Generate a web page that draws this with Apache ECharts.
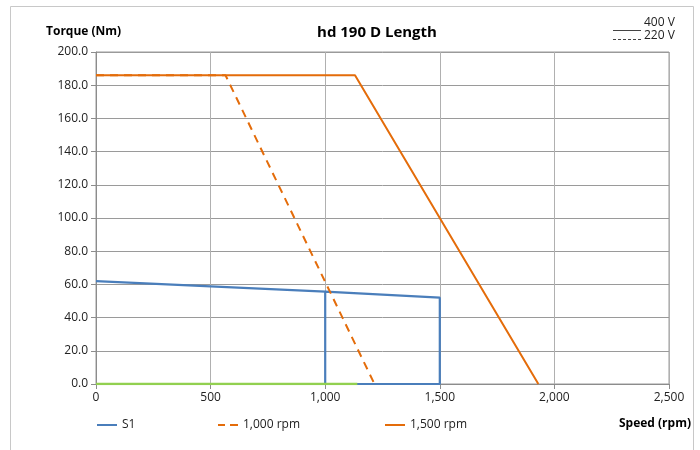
<!DOCTYPE html>
<html>
<head>
<meta charset="utf-8">
<script src="https://cdn.jsdelivr.net/npm/echarts@6/dist/echarts.min.js"></script>
<style>
  html, body { margin: 0; padding: 0; background: #fff; }
  #chart { width: 700px; height: 450px; }
</style>
</head>
<body>
<div id="chart"></div>
<script>
// speed (rpm) / torque (Nm) points
const s1Points = [[0, 62], [1000, 55.7], [1000, 0], [1000, 55.7], [1500, 52], [1500, 0], [1000, 0]]
const rpm1000Points = [[0, 186], [565, 186], [1215, 0]]
const rpm1500Points = [[0, 186], [1130, 186], [1930, 0]]
const zeroPoints = [[0, 0], [1140, 0]]
const seriesNames = ['S1', '1,000 rpm', '1,500 rpm']

const font = 'Open Sans, Liberation Sans, sans-serif'
const chart = echarts.init(document.getElementById('chart'))

const fmtX = v => v.toLocaleString('en-US')

// legend keys: plain line, dashed line, plain line
const solidKey = 'path://M0,0 H20 V2 H0 Z'
const dashKey = 'path://M0,0 H7 V2 H0 Z M12,0 H20 V2 H12 Z'
const legendKeys = [solidKey, dashKey, solidKey]

// one legend box per entry so they sit where the original has them
const legendLefts = [92, 213, 380]
const legends = seriesNames.map((n, i) => ({
  data: [{ name: n, icon: legendKeys[i] }],
  left: legendLefts[i], top: 414,
  itemWidth: 20, itemHeight: 2,
  textStyle: { fontSize: 12, color: '#222', fontFamily: font }
}))

chart.setOption({
  animation: false,
  textStyle: { fontFamily: font },
  title: {
    text: 'hd 190 D Length',
    left: 372, top: 20, textAlign: 'center',
    textStyle: { fontSize: 15, fontWeight: 'bold', color: '#000', fontFamily: font }
  },
  grid: { left: 96, right: 31, top: 52, bottom: 66 },
  legend: legends,
  xAxis: {
    type: 'value', min: 0, max: 2500, interval: 500,
    axisLine: { lineStyle: { color: '#8c8c8c' } },
    axisTick: { show: true, lineStyle: { color: '#8c8c8c' } },
    axisLabel: { formatter: fmtX, fontSize: 12, color: '#222' },
    splitLine: { lineStyle: { color: '#b0b0b0' } }
  },
  yAxis: {
    type: 'value', min: 0, max: 200, interval: 20,
    axisLine: { show: true, lineStyle: { color: '#8c8c8c' } },
    axisTick: { show: true, lineStyle: { color: '#8c8c8c' } },
    axisLabel: { formatter: v => v.toFixed(1), fontSize: 12, color: '#222' },
    splitLine: { lineStyle: { color: '#9a9a9a' } }
  },
  graphic: [
    { type: 'rect', shape: { x: 10.5, y: 6.5, width: 683, height: 450 }, style: { fill: 'none', stroke: '#c8c8c8', lineWidth: 1 }, silent: true },
    { type: 'rect', shape: { x: 96, y: 52, width: 573, height: 332 }, style: { fill: 'none', stroke: '#9a9a9a', lineWidth: 1 }, silent: true, z: 0 },
    { type: 'text', left: 46, top: 26, style: { text: 'Torque (Nm)', font: 'bold 12px ' + font, fill: '#000' } },
    { type: 'text', right: 9, top: 418, style: { text: 'Speed (rpm)', font: 'bold 12px ' + font, fill: '#000' } },
    { type: 'line', shape: { x1: 613, y1: 30.5, x2: 641, y2: 30.5 }, style: { stroke: '#444', lineWidth: 1 } },
    { type: 'line', shape: { x1: 613, y1: 39.5, x2: 641, y2: 39.5 }, style: { stroke: '#444', lineWidth: 1, lineDash: [3, 2] } },
    { type: 'text', left: 644, top: 17, style: { text: '400 V', font: '12px ' + font, fill: '#222' } },
    { type: 'text', left: 644, top: 30, style: { text: '220 V', font: '12px ' + font, fill: '#222' } }
  ],
  series: [
    {
      name: 'zero', type: 'line', data: zeroPoints, symbol: 'none', z: 3,
      lineStyle: { color: '#92d050', width: 2.5 }, itemStyle: { color: '#92d050' }
    },
    {
      name: seriesNames[0], type: 'line', data: s1Points, symbol: 'none', z: 2,
      lineStyle: { color: '#4a7ebb', width: 2.2 }, itemStyle: { color: '#4a7ebb' }
    },
    {
      name: seriesNames[1], type: 'line', data: rpm1000Points, symbol: 'none', z: 4,
      lineStyle: { color: '#e46c0a', width: 2, type: [8, 6] }, itemStyle: { color: '#e46c0a' }
    },
    {
      name: seriesNames[2], type: 'line', data: rpm1500Points, symbol: 'none', z: 4,
      lineStyle: { color: '#e46c0a', width: 2 }, itemStyle: { color: '#e46c0a' }
    }
  ]
})
</script>
</body>
</html>
